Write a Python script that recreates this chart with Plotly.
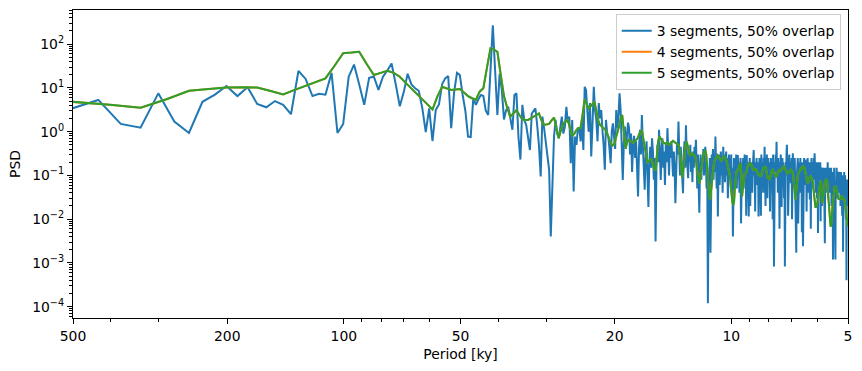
import numpy as np
import plotly.graph_objects as go

# Welch PSD estimates; x = period [ky] = segment length / frequency index
seg_len_3 = 3012.0   # ky, segment length for 3 segments, 50% overlap
seg_len_5 = 2008.0   # ky, segment length for 4/5 segments curve
k0_3 = 5
k0_5 = 3

psd_3seg = [
    3.0, 3.4, 5.3, 1.5, 1.23, 7.5, 1.7, 0.93, 4.8, 7.0,
    11, 6.5, 10.3, 4.3, 3.6, 5.0, 4.1, 2.5, 24.5, 16,
    6.5, 7.3, 7.0, 22, 0.93, 1.5, 18, 34, 12, 4.1,
    17, 18, 9.0, 18, 25, 36, 12, 3.8, 8.0, 21,
    12, 9.8, 8.6, 3.5, 0.97, 3.4, 0.61, 3.1, 4.2, 12,
    16.5, 18.7, 1.2, 8.0, 22, 19.7, 7.0, 3.0, 0.77, 0.75,
    5.8, 4.1, 5.5, 6.9, 6.5, 3.0, 2.4, 30, 270, 25,
    2.4, 21, 9.0, 1.9, 3.1, 3.7, 2.2, 1.1, 6.9, 7.5,
    0.77, 0.23, 4.1, 1.85, 1.42, 0.8, 0.38, 2.6, 3.0, 3.4,
    1.42, 0.5, 0.094, 2.2, 1.2, 0.59, 0.3, 0.134, 0.004, 0.066,
    0.77, 1.85, 0.9, 0.7, 1.5, 2.2, 0.9, 1.3, 3.7, 1.6,
    2.2, 0.19, 1.85, 0.043, 0.77, 0.5, 1.2, 1.2, 0.6, 1.85,
    0.38, 10.6, 9.0, 2.4, 1.0, 4.5, 0.27, 1.5, 10.6, 3.0,
    1.85, 0.6, 4.5, 2.0, 3.1, 1.1, 0.5, 0.134, 1.85, 0.9,
    0.77, 0.4, 0.19, 1.0, 1.55, 0.77, 0.4, 3.1, 1.2, 2.2,
    7.5, 3.1, 0.5, 0.079, 0.54, 1.3, 0.4, 0.9, 1.6, 1.2,
    0.3, 0.9, 0.12, 0.5, 0.8, 0.25, 0.6, 0.15, 0.033, 0.4,
    1.1, 0.3, 2.4, 0.5, 0.09, 0.047, 0.3, 0.6, 0.1, 0.019,
    0.2, 0.45, 0.15, 0.7, 0.35, 0.08, 0.25, 0.0031, 0.15, 0.5,
    0.2, 1.1, 0.3, 0.079, 0.4, 0.7, 0.15, 0.35, 0.06, 0.5,
    0.2, 1.2, 0.4, 0.1, 0.55, 0.25, 0.6, 0.3, 0.094, 0.35,
    0.15, 0.023, 0.2, 0.5, 0.3, 1.7, 0.35, 0.1, 0.45, 0.2,
    0.08, 0.039, 0.3, 0.6, 0.15, 1.4, 0.3, 0.15, 0.086, 0.4,
    0.2, 0.5, 0.12, 0.3, 0.07, 0.35, 0.15, 0.45, 0.25, 0.65,
    0.2, 0.05, 0.3, 0.1, 0.014, 0.15, 0.3, 0.08, 0.25, 0.17,
    0.4, 0.1, 0.3, 0.45, 0.2, 0.05, 0.15, 0.00012, 0.02, 0.12,
    0.25, 0.0017, 0.1, 0.3, 0.15, 0.4, 0.08, 0.25, 0.12, 0.77,
    0.2, 0.05, 0.3, 0.0115, 0.15, 0.3, 0.06, 0.2, 0.35, 0.1,
    0.25, 0.04, 0.45, 0.15, 0.3, 0.07, 0.2, 0.35, 0.1, 0.25,
    0.03, 0.15, 0.3, 0.08, 0.2, 0.12, 0.3, 0.05, 0.15, 0.004,
    0.1, 0.25, 0.06, 0.2, 0.12, 0.3, 0.05, 0.15, 0.29, 0.1,
    0.2, 0.04, 0.15, 0.25, 0.008, 0.06, 0.2, 0.1, 0.25, 0.05,
    0.15, 0.3, 0.08, 0.2, 0.012, 0.29, 0.1, 0.2, 0.05, 0.0115,
    0.15, 0.25, 0.02, 0.18, 0.1, 0.2, 0.04, 0.15, 0.25, 0.38,
    0.1, 0.18, 0.015, 0.2, 0.12, 0.25, 0.06, 0.15, 0.2, 0.0115,
    0.1, 0.25, 0.05, 0.18, 0.012, 0.3, 0.07, 0.15, 0.2, 0.04,
    0.25, 0.1, 0.45, 0.15, 0.02, 0.2, 0.1, 0.3, 0.03, 0.15,
    0.25, 0.08, 0.2, 0.12, 0.015, 0.1, 0.25, 0.05, 0.15, 0.2,
    0.01, 0.3, 0.1, 0.00083, 0.05, 0.2, 0.12, 0.3, 0.15, 0.59,
    0.1, 0.2, 0.04, 0.25, 0.12, 0.15, 0.006, 0.2, 0.1, 0.3,
    0.05, 0.019, 0.15, 0.25, 0.08, 0.2, 0.1, 0.03, 0.15, 0.00083,
    0.05, 0.2, 0.1, 0.3, 0.5, 0.15, 0.25, 0.012, 0.2, 0.12,
    0.3, 0.08, 0.15, 0.2, 0.066, 0.15, 0.25, 0.01, 0.2, 0.32,
    0.12, 0.05, 0.2, 0.1, 0.25, 0.06, 0.15, 0.03, 0.0017, 0.08,
    0.2, 0.12, 0.25, 0.008, 0.15, 0.1, 0.2, 0.04, 0.15, 0.25,
    0.08, 0.12, 0.16, 0.005, 0.2, 0.1, 0.0024, 0.05, 0.15, 0.25,
    0.1, 0.2, 0.06, 0.23, 0.12, 0.2, 0.015, 0.15, 0.05, 0.25,
    0.1, 0.18, 0.04, 0.12, 0.2, 0.028, 0.1, 0.2, 0.006, 0.15,
    0.25, 0.1, 0.18, 0.05, 0.2, 0.12, 0.08, 0.25, 0.15, 0.32,
    0.1, 0.2, 0.04, 0.15, 0.08, 0.2, 0.03, 0.1, 0.15, 0.0048,
    0.06, 0.2, 0.1, 0.15, 0.04, 0.12, 0.2, 0.009, 0.15, 0.08,
    0.1, 0.02, 0.15, 0.06, 0.12, 0.04, 0.1, 0.15, 0.05, 0.012,
    0.0028, 0.08, 0.15, 0.04, 0.12, 0.1, 0.05, 0.15, 0.08, 0.2,
    0.03, 0.1, 0.06, 0.134, 0.08, 0.15, 0.04, 0.1, 0.12, 0.05,
    0.15, 0.02, 0.1, 0.06, 0.12, 0.03, 0.0012, 0.05, 0.12, 0.08,
    0.15, 0.04, 0.1, 0.02, 0.0012, 0.06, 0.12, 0.05, 0.15, 0.08,
    0.1, 0.03, 0.12, 0.06, 0.1, 0.04, 0.112, 0.08, 0.12, 0.05,
    0.1, 0.02, 0.08, 0.12, 0.04, 0.1, 0.06, 0.012, 0.08, 0.05,
    0.0018, 0.04, 0.1, 0.06, 0.12, 0.03, 0.08, 0.1, 0.04, 0.07,
    0.01, 0.05, 0.0004, 0.03, 0.08, 0.06, 0.02, 0.05, 0.03, 0.05,
]

psd_5seg = [
    5.2, 4.8, 4.1, 3.5, 5.5, 8.6, 9.4, 10.2, 10.3, 10.2,
    8.5, 7.1, 9.0, 11.2, 13.5, 16.5, 32, 62, 64, 67,
    35, 19.7, 22, 24.7, 22, 18, 13, 9.8, 7.4, 5.5,
    4.2, 3.2, 6.3, 10.6, 9.8, 9.0, 9.2, 9.4, 7.8, 6.5,
    5.8, 5.3, 8.2, 9.8, 29, 80, 75, 67, 20, 6.5,
    3.5, 2.2, 2.6, 3.1, 2.4, 1.9, 1.85, 1.85, 2.0, 2.15,
    2.4, 2.6, 1.8, 1.42, 1.45, 1.5, 1.8, 2.1, 1.2, 0.72,
    1.1, 1.55, 1.7, 1.85, 1.2, 0.8, 0.9, 1.1, 1.2, 1.23,
    2.5, 5.5, 4.3, 3.4, 3.8, 4.3, 4.8, 3.0, 1.8, 1.42,
    1.3, 1.15, 1.1, 0.9, 0.7, 0.55, 0.48, 0.5, 0.7, 0.92,
    1.3, 2.0, 2.4, 1.0, 0.42, 0.55, 0.67, 0.6, 0.6, 0.56,
    0.6, 0.65, 0.7, 0.85, 1.0, 1.05, 0.7, 0.42, 0.3, 0.2,
    0.21, 0.23, 0.23, 0.18, 0.14, 0.13, 0.3, 0.6, 0.77, 0.7,
    0.6, 0.56, 0.55, 0.52, 0.56, 0.54, 0.5, 0.55, 0.6, 0.62,
    0.59, 0.56, 0.52, 0.5, 0.48, 0.3, 0.15, 0.09, 0.15, 0.3,
    0.5, 0.59, 0.45, 0.35, 0.29, 0.3, 0.32, 0.3, 0.28, 0.27,
    0.2, 0.12, 0.08, 0.066, 0.1, 0.16, 0.25, 0.3, 0.35, 0.37,
    0.3, 0.15, 0.06, 0.035, 0.028, 0.05, 0.09, 0.15, 0.19, 0.22,
    0.25, 0.28, 0.29, 0.27, 0.25, 0.23, 0.21, 0.24, 0.25, 0.27,
    0.26, 0.24, 0.22, 0.18, 0.15, 0.13, 0.1, 0.06, 0.035, 0.025,
    0.021, 0.024, 0.05, 0.09, 0.12, 0.13, 0.13, 0.15, 0.17, 0.19,
    0.12, 0.033, 0.05, 0.08, 0.1, 0.11, 0.112, 0.13, 0.16, 0.18,
    0.19, 0.17, 0.19, 0.18, 0.16, 0.14, 0.13, 0.145, 0.14, 0.13,
    0.134, 0.12, 0.11, 0.1, 0.11, 0.095, 0.1, 0.1, 0.12, 0.13,
    0.15, 0.16, 0.14, 0.16, 0.13, 0.1, 0.09, 0.085, 0.08, 0.079,
    0.09, 0.11, 0.12, 0.13, 0.134, 0.12, 0.11, 0.1, 0.095, 0.094,
    0.1, 0.11, 0.12, 0.13, 0.125, 0.13, 0.134, 0.13, 0.14, 0.15,
    0.15, 0.16, 0.16, 0.15, 0.14, 0.13, 0.12, 0.11, 0.112, 0.12,
    0.12, 0.13, 0.125, 0.134, 0.13, 0.13, 0.12, 0.1, 0.07, 0.045,
    0.03, 0.028, 0.04, 0.06, 0.08, 0.1, 0.11, 0.12, 0.122, 0.13,
    0.14, 0.135, 0.15, 0.145, 0.16, 0.16, 0.155, 0.15, 0.13, 0.11,
    0.09, 0.075, 0.066, 0.066, 0.07, 0.08, 0.085, 0.09, 0.094, 0.094,
    0.09, 0.085, 0.08, 0.07, 0.05, 0.035, 0.025, 0.02, 0.019, 0.019,
    0.02, 0.022, 0.025, 0.03, 0.04, 0.05, 0.06, 0.07, 0.075, 0.07,
    0.05, 0.03, 0.023, 0.03, 0.04, 0.05, 0.06, 0.07, 0.075, 0.079,
    0.08, 0.079, 0.07, 0.05, 0.035, 0.022, 0.014, 0.01, 0.008, 0.007,
    0.0068, 0.008, 0.012, 0.018, 0.025, 0.035, 0.045, 0.05, 0.055, 0.055,
    0.055, 0.05, 0.045, 0.04, 0.035, 0.03, 0.028, 0.028, 0.03, 0.03,
    0.029, 0.028, 0.03, 0.033, 0.035, 0.033, 0.03, 0.028, 0.028, 0.028,
    0.028, 0.025, 0.02, 0.016, 0.012, 0.01, 0.008, 0.007, 0.007, 0.008,
]
psd_4seg = list(psd_5seg)  # overlaps the 5-segment curve exactly

x_ticks = [500, 200, 100, 50, 20, 10, 5]
x_minor = [400, 300, 90, 80, 70, 60, 40, 30, 9, 8, 7, 6]
y_ticks = [1e-4, 1e-3, 1e-2, 1e-1, 1e0, 1e1, 1e2]
y_ticktext = ["10<sup>\u22124</sup>", "10<sup>\u22123</sup>", "10<sup>\u22122</sup>",
              "10<sup>\u22121</sup>", "10<sup>0</sup>", "10<sup>1</sup>", "10<sup>2</sup>"]
y_minor = [m * 10.0 ** e for e in range(-5, 3) for m in range(2, 10)]

names = ["3 segments, 50% overlap", "4 segments, 50% overlap", "5 segments, 50% overlap"]
colors = ["#1f77b4", "#ff7f0e", "#2ca02c"]

per3 = seg_len_3 / np.arange(k0_3, k0_3 + len(psd_3seg))
per5 = seg_len_5 / np.arange(k0_5, k0_5 + len(psd_5seg))

fig = go.Figure()
for per, psd, name, col in [(per3, psd_3seg, names[0], colors[0]),
                            (per5, psd_4seg, names[1], colors[1]),
                            (per5, psd_5seg, names[2], colors[2])]:
    fig.add_trace(go.Scatter(x=per, y=psd, mode="lines", name=name,
                             line=dict(color=col, width=2)))

font = dict(family="DejaVu Sans", size=13.9, color="black")
axis_common = dict(showgrid=False, zeroline=False, showline=True, linecolor="black",
                   linewidth=1.1, mirror=True, ticks="outside", ticklen=5, tickwidth=1.1,
                   tickcolor="black", tickfont=font, automargin=False)

fig.update_layout(
    width=862, height=371,
    margin=dict(l=73, r=14, t=10, b=53, autoexpand=False),
    paper_bgcolor="white", plot_bgcolor="white",
    font=font,
    xaxis=dict(type="log", range=[np.log10(500), np.log10(5)],
               tickmode="array", tickvals=x_ticks, ticktext=[str(v) for v in x_ticks],
               minor=dict(tickmode="array", tickvals=x_minor, ticks="outside",
                          ticklen=3, tickwidth=0.8, tickcolor="black", showgrid=False),
               title=dict(text="Period [ky]", font=font, standoff=6),
               **axis_common),
    yaxis=dict(type="log", range=[-4.26, 2.78],
               tickmode="array", tickvals=y_ticks, ticktext=y_ticktext,
               minor=dict(tickmode="array", tickvals=y_minor, ticks="outside",
                          ticklen=3, tickwidth=0.8, tickcolor="black", showgrid=False),
               title=dict(text="PSD", font=font, standoff=8),
               **axis_common),
    legend=dict(x=0.9906, y=0.9866, xanchor="right", yanchor="top",
                bgcolor="rgba(255,255,255,0.8)", bordercolor="#cccccc", borderwidth=1,
                font=font, itemwidth=30, tracegroupgap=0),
    showlegend=True,
)

fig.write_html("out.html", config={"displayModeBar": False},
               post_script="document.body.style.margin='0';document.body.style.overflow='hidden';")
